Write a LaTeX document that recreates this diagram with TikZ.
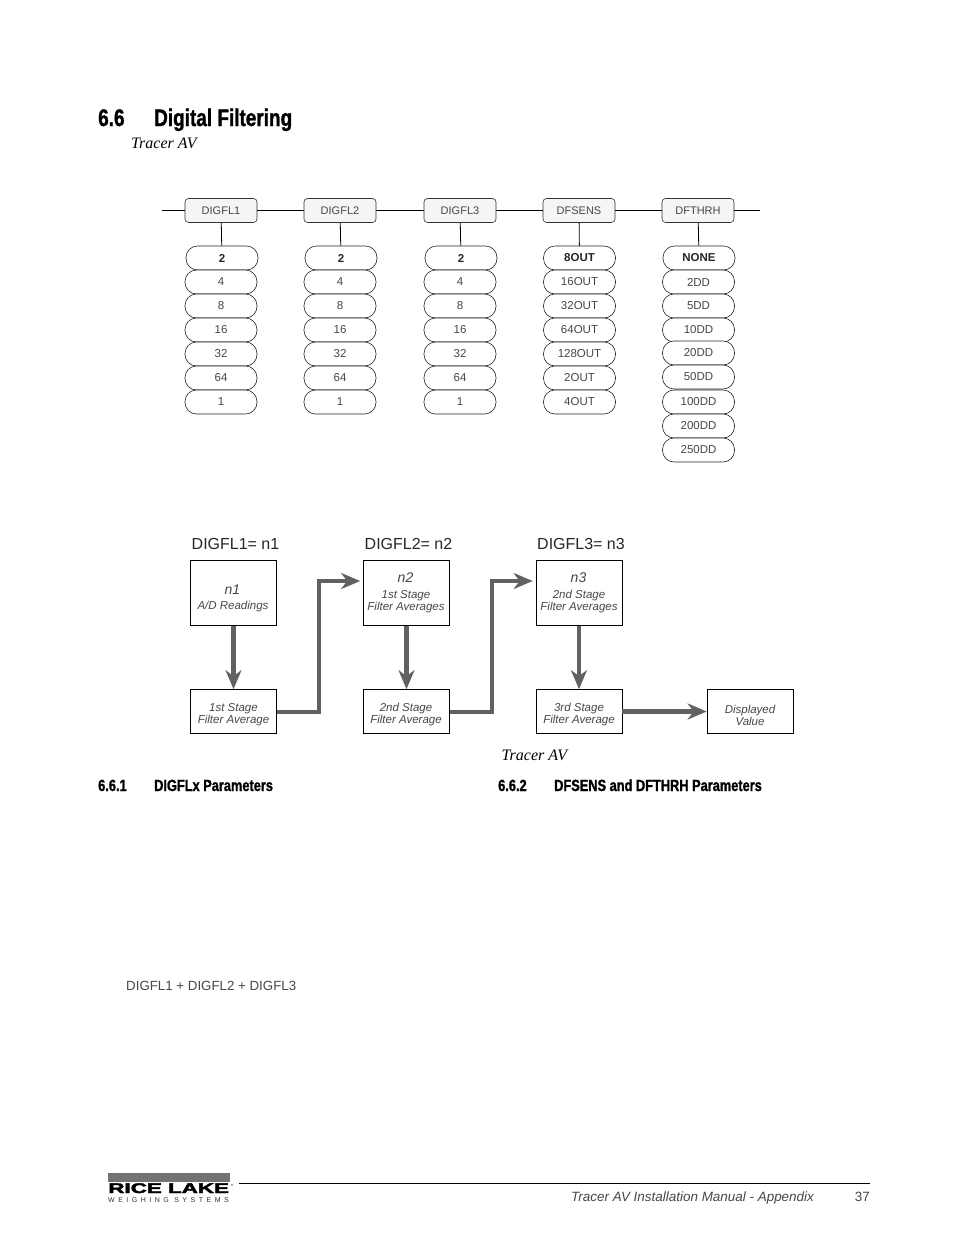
\documentclass[tikz,border=0pt]{standalone}
\usepackage{fontspec}
\setmainfont{Liberation Sans}
\newfontfamily\titlefont[FakeStretch=0.79,BoldFeatures={FakeBold=1.2}]{Liberation Sans}
\newfontfamily\timesfont{Liberation Serif}
\newfontfamily\logofont[BoldFeatures={FakeBold=2.5}]{Liberation Sans}
\newfontfamily\logosmall[LetterSpace=50]{Liberation Sans}
\newcommand{\dn}[1]{\raisebox{-1pt}{#1}}
\usetikzlibrary{arrows.meta}
\definecolor{txt}{gray}{0.28}
\definecolor{arr}{gray}{0.38}
\tikzset{
 menubox/.style={draw=black!80,fill=black!4,rounded corners=3.5pt,line width=0.6pt,minimum width=72pt,minimum height=24pt,inner sep=0pt,font=\fontsize{11}{11}\selectfont,text=txt},
 pill/.style={draw=black!85,fill=white,rounded corners=11.5pt,line width=0.6pt,minimum width=72pt,minimum height=24pt,inner sep=0pt,font=\fontsize{11.5}{11.5}\selectfont,text=txt},
 boldpill/.style={pill,font=\fontsize{11.5}{11.5}\selectfont\bfseries,text=black!85},
 conn/.style={line width=0.8pt,draw=black},
 flowbox/.style={draw=black,line width=0.7pt,inner sep=0pt},
 flowtext/.style={inner sep=0pt,align=center,text=txt,font=\fontsize{11.5}{12}\selectfont\itshape},
 flownum/.style={inner sep=0pt,text=txt,font=\fontsize{14}{14}\selectfont\itshape},
 flow/.style={line width=4.2pt,draw=arr,-{Stealth[length=19pt,width=16pt,inset=6pt]}},
 flowhead/.style={font=\fontsize{16}{16}\selectfont,text=black!85,inner sep=0pt,anchor=base west},
 secmain/.style={font=\titlefont\bfseries\fontsize{24}{24}\selectfont,inner sep=0pt,anchor=base west},
 secsub/.style={font=\titlefont\bfseries\fontsize{16.2}{16.2}\selectfont,inner sep=0pt,anchor=base west},
 caplabel/.style={font=\timesfont\itshape\fontsize{16}{16}\selectfont,inner sep=0pt,anchor=base west},
}
\begin{document}
\begin{tikzpicture}[x=1pt,y=-1pt]
\useasboundingbox (0,0) rectangle (954,1235);
\fill[white] (0,0) rectangle (954,1235);

\node[secmain] (t0) at (98,126) {6.6};
\node[secmain] (t1) at (154,126) {Digital Filtering};
\node[caplabel] (c1) at (131,148) {Tracer AV};

% menu tree
\coordinate (L) at (162,210.5);
\coordinate (R) at (760,210.5);
\node[menubox] (m1) at (221,210.5) {\dn{DIGFL1}};
\node[menubox] (m2) at (340,210.5) {\dn{DIGFL2}};
\node[menubox] (m3) at (460,210.5) {\dn{DIGFL3}};
\node[menubox] (m4) at (579,210.5) {\dn{DFSENS}};
\node[menubox] (m5) at (698,210.5) {\dn{DFTHRH}};
\draw[conn] (L) -- (m1);
\draw[conn] (m1) -- (m2);
\draw[conn] (m2) -- (m3);
\draw[conn] (m3) -- (m4);
\draw[conn] (m4) -- (m5);
\draw[conn] (m5) -- (R);

\foreach \c/\x in {1/222,2/341,3/461}{
  \node[boldpill] (a\c) at (\x,258) {2};
  \foreach \i/\y/\t in {2/282/4,3/306/8,4/330/16,5/354/32,6/378/64,7/402/1}{
    \node[pill] (a\c\i) at (\x-1,\y) {\t};
  }
  \draw[conn] (m\c) -- (a\c);
}
\node[boldpill] (a4) at (579.5,258) {8OUT};
\foreach \i/\y/\t in {2/282/16OUT,3/306/32OUT,4/330/64OUT,5/354/128OUT,6/378/2OUT,7/402/4OUT}{
  \node[pill] (a4\i) at (579.5,\y) {\t};
}
\draw[conn] (m4) -- (a4);
\node[boldpill] (a5) at (699,258) {NONE};
\foreach \i/\y/\t in {2/282/2DD,3/306/5DD,4/330/10DD,5/353/20DD,6/377/50DD,7/402/100DD,8/426/200DD,9/450/250DD}{
  \node[pill] (a5\i) at (698.5,\y) {\t};
}
\draw[conn] (m5) -- (a5);

% flow diagram
\node[flowhead] (h1) at (191.5,549) {DIGFL1= n1};
\node[flowhead] (h2) at (364.5,549) {DIGFL2= n2};
\node[flowhead] (h3) at (537,549) {DIGFL3= n3};

\node[flowbox,minimum width=86pt,minimum height=65pt] (b1) at (233.5,593) {};
\node[flowbox,minimum width=86pt,minimum height=65pt] (b2) at (406.5,593) {};
\node[flowbox,minimum width=86pt,minimum height=65pt] (b3) at (579,593) {};
\node[flownum] (n1) at (232.5,589.5) {n1};
\node[flowtext] (d1) at (233,607) {A/D Readings};
\node[flownum] (n2) at (405.5,577.5) {n2};
\node[flowtext] (d2) at (406,602) {1st Stage\\Filter Averages};
\node[flownum] (n3) at (578.5,577.5) {n3};
\node[flowtext] (d3) at (579,602) {2nd Stage\\Filter Averages};

\node[flowbox,minimum width=86pt,minimum height=44pt] (f1) at (233.5,711.5) {};
\node[flowbox,minimum width=86pt,minimum height=44pt] (f2) at (406.5,711.5) {};
\node[flowbox,minimum width=86pt,minimum height=44pt] (f3) at (579,711.5) {};
\node[flowbox,minimum width=86pt,minimum height=44pt] (f4) at (750,711.5) {};
\node[flowtext] (g1) at (233.5,715) {1st Stage\\Filter Average};
\node[flowtext] (g2) at (406,715) {2nd Stage\\Filter Average};
\node[flowtext] (g3) at (579,715) {3rd Stage\\Filter Average};
\node[flowtext] (g4) at (750,715) {Displayed\\Value};

\draw[flow] (b1) -- (f1);
\draw[flow] (b2) -- (f2);
\draw[flow] (b3) -- (f3);
\draw[flow] (f3) -- (f4);
\coordinate (e1) at (319,712);
\coordinate (e2) at (319,581);
\coordinate (e3) at (492,712);
\coordinate (e4) at (492,581);
\draw[flow,line join=miter,shorten >=3pt] (f1.east |- e1) -- (e1) -- (e2) -- (e2 -| b2.west);
\draw[flow,line join=miter,shorten >=3pt] (f2.east |- e3) -- (e3) -- (e4) -- (e4 -| b3.west);

\node[caplabel] (c2) at (501.5,760) {Tracer AV};
\node[secsub] (s1) at (98,791) {6.6.1};
\node[secsub] (s1b) at (154,791) {DIGFLx Parameters};
\node[secsub] (s2) at (498,791) {6.6.2};
\node[secsub] (s2b) at (554,791) {DFSENS and DFTHRH Parameters};
\node[font=\fontsize{13.3}{13.3}\selectfont,text=txt,inner sep=0pt,anchor=base west] (eq) at (126,990) {DIGFL1 + DIGFL2 + DIGFL3};

% footer
\fill[black!55] (108,1173) rectangle (230,1182);
\node[font=\logofont\bfseries\fontsize{14}{14}\selectfont,inner sep=0pt,anchor=base west,xscale=1.6] (logo) at (108,1193) {RICE LAKE};
\node[font=\logofont\fontsize{3}{3}\selectfont,inner sep=0pt,anchor=base west] (reg) at (231,1186) {®};
\node[font=\logosmall\fontsize{7}{7}\selectfont,text=black!80,inner sep=0pt,anchor=base west] (logo2) at (108,1202.5) {WEIGHING SYSTEMS};
\coordinate (fl) at (239,1183.5);
\coordinate (fr) at (870,1183.5);
\draw[line width=0.8pt] (fl) -- (fr);
\node[font=\fontsize{13.45}{13.45}\selectfont\itshape,text=txt,inner sep=0pt,anchor=base west] (ft) at (571,1201) {Tracer AV Installation Manual - Appendix};
\node[font=\fontsize{13.45}{13.45}\selectfont,text=txt,inner sep=0pt,anchor=base east] (pg) at (870,1201) {37};
\end{tikzpicture}
\end{document}
